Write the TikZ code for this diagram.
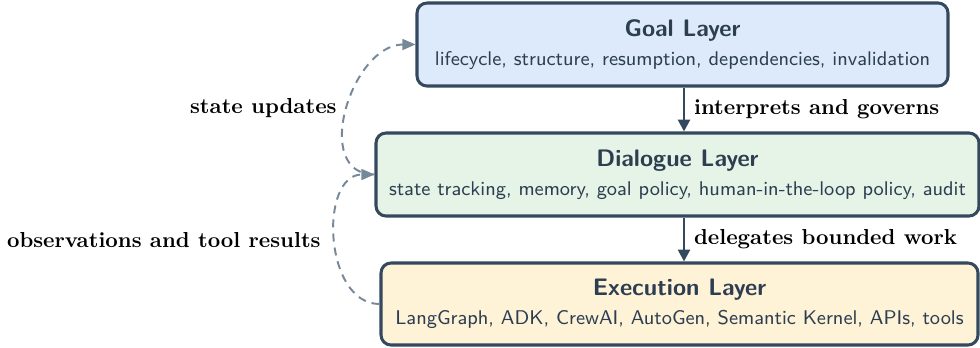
\documentclass[tikz,border=0pt]{standalone}
\usetikzlibrary{arrows.meta}
\definecolor{edgecol}{HTML}{34495E}
\definecolor{textcol}{HTML}{2C3E50}
\definecolor{goalfill}{HTML}{DCEAFC}
\definecolor{dlgfill}{HTML}{E6F4E7}
\definecolor{execfill}{HTML}{FEF2D7}
\definecolor{loopcol}{HTML}{778899}
\def\pxu{0.461pt}
\tikzset{
  layer/.style={draw=edgecol, line width=1.4pt, rounded corners=4.6pt,
    align=center, text=textcol, inner sep=0pt, minimum height=83*\pxu,
    font=\sffamily\fontsize{9.15}{13.2}\selectfont},
  down/.style={draw=edgecol, line width=1.3pt, -{Triangle[length=5.5pt,width=5.5pt]}},
  loop/.style={draw=loopcol, line width=0.9pt, dash pattern=on 3.7pt off 2.8pt,
    -{Triangle[length=6pt,width=5pt]}},
  lbl/.style={font=\bfseries, text=black, inner sep=0pt},
}
\newcommand\lay[2]{{\bfseries\fontsize{11}{13}\selectfont #1}\\#2}
\begin{document}
\begin{tikzpicture}[x=0.461pt,y=-0.461pt]
\useasboundingbox (0,0) rectangle (980,347);
\node[layer, fill=goalfill, minimum width=531*\pxu] (goal) at (682.5,44.5)
  {\lay{Goal Layer}{lifecycle, structure, resumption, dependencies, invalidation}};
\node[layer, fill=dlgfill, minimum width=603*\pxu] (dlg) at (677.5,174.5)
  {\lay{Dialogue Layer}{state tracking, memory, goal policy, human-in-the-loop policy, audit}};
\node[layer, fill=execfill, minimum width=597*\pxu, minimum height=82*\pxu] (exec) at (679.5,304)
  {\lay{Execution Layer}{LangGraph, ADK, CrewAI, AutoGen, Semantic Kernel, APIs, tools}};
\draw[down] (goal.south -| 684,0) -- (dlg.north -| 684,0)
  node[lbl, midway, anchor=west, xshift=4pt] (l1) {interprets and governs};
\draw[down] (dlg.south -| 684,0) -- (exec.north -| 684,0)
  node[lbl, midway, anchor=west, xshift=4pt] (l2) {delegates bounded work};
\draw[loop] (dlg.west) to[out=180, in=180, looseness=1.2] (goal.west);
\draw[loop] (exec.west) to[out=180, in=180, looseness=1.1] (dlg.west);
\node[lbl, anchor=east] (l3) at (337,108) {state updates};
\node[lbl, anchor=east] (l4) at (321,240) {observations and tool results};
\end{tikzpicture}
\end{document}
